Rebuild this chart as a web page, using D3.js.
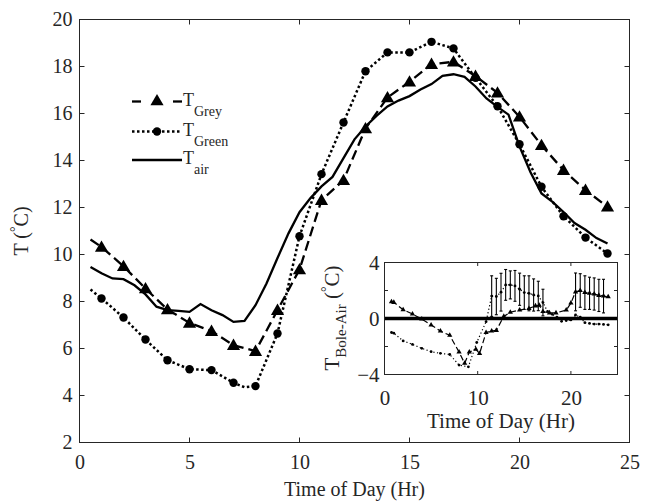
<!DOCTYPE html>
<html>
<head>
<meta charset="utf-8">
<script src="https://cdn.jsdelivr.net/npm/d3@7"></script>
<style>
  body { margin: 0; background: #fff; }
  svg { display: block; font-family: "Liberation Serif", "Times New Roman", serif; }
</style>
</head>
<body>
<div id="chart"></div>
<script>
// ---- main chart data ----
const airHours = [0.5, 1, 1.5, 2, 2.5, 3, 3.5, 4, 4.5, 5, 5.5, 6, 6.5, 7, 7.5, 8, 8.5, 9, 9.5, 10,
  10.5, 11, 11.5, 12, 12.5, 13, 13.5, 14, 14.5, 15, 15.5, 16, 16.5, 17, 17.5, 18, 18.5, 19, 19.5, 20,
  20.5, 21, 21.5, 22, 22.5, 23, 23.5, 24];
const airTemp = [9.47, 9.2, 8.98, 8.95, 8.69, 8.3, 7.78, 7.63, 7.6, 7.56, 7.89, 7.63, 7.42, 7.13, 7.17, 7.84, 8.77, 9.85, 10.9, 11.8,
  12.4, 12.9, 13.3, 14.1, 14.9, 15.45, 15.9, 16.3, 16.55, 16.74, 17.02, 17.25, 17.6, 17.67, 17.56, 17.15, 16.64, 16.28, 15.95, 14.6,
  13.5, 12.6, 12.24, 11.81, 11.34, 11.05, 10.7, 10.47];

const greyHours = [0.5, 1, 2, 3, 4, 5, 6, 7, 8, 9, 10, 11, 12, 13, 14, 15, 16, 17, 18, 19, 20, 21, 22, 23, 24];
const greyTemp = [10.64, 10.32, 9.5, 8.55, 7.66, 7.09, 6.74, 6.14, 5.89, 7.63, 9.36, 12.31, 13.16, 15.36, 16.68, 17.35,
  18.1, 18.2, 17.59, 16.88, 15.86, 14.65, 13.59, 12.74, 12.03];

const greenHours = [0.5, 1, 2, 3, 4, 5, 6, 7, 7.5, 8, 9, 10, 11, 12, 13, 14, 15, 16, 17, 18, 19, 20, 21, 22, 23, 24];
const greenTemp = [8.51, 8.13, 7.32, 6.38, 5.5, 5.12, 5.08, 4.54, 4.35, 4.4, 6.64, 10.78, 13.42, 15.62, 17.8, 18.6,
  18.6, 19.05, 18.77, 17.52, 16.31, 14.69, 12.88, 11.63, 10.72, 10.04];

const xTicks = [0, 5, 10, 15, 20, 25];
const yTicks = [2, 4, 6, 8, 10, 12, 14, 16, 18, 20];

// ---- inset data: bole minus air ----
const insetGreyHours = [0.75, 1, 2, 3, 4, 5, 6, 7, 8, 8.6, 9.1, 9.8, 10.2, 10.9, 11.5, 12, 12.8, 13.5, 14.5, 15.5,
  16.2, 16.6, 17, 17.7, 18.4, 19.5, 20, 20.5, 21, 21.5, 22, 22.5, 23, 23.5, 24];
const insetGrey = [1.2, 1.15, 0.63, 0.32, -0.04, -0.46, -0.9, -1.2, -2.4, -3.2, -2.4, -2.2, -2.5, -1.0, -0.9, -0.85, 0.15, 0.45, 0.6, 0.72,
  0.9, 0.95, 0.5, 0.4, 0.4, 0.6, 1.1, 1.9, 2.0, 1.85, 1.8, 1.75, 1.65, 1.6, 1.55];

const insetGreenHours = [0.75, 1, 2, 3, 4, 5, 6, 7, 8, 9, 9.9, 10.9, 11.5, 12, 12.5, 13, 13.5, 14, 14.5, 15,
  15.5, 16, 16.5, 17, 17.5, 18, 18.5, 19, 19.5, 20, 20.5, 21, 21.5, 22, 22.5, 23, 23.5, 24];
const insetGreen = [-1.0, -1.05, -1.6, -1.85, -2.13, -2.37, -2.49, -2.57, -3.33, -3.45, -1.71, -0.23, 1.6, 1.57, 1.88, 2.4, 2.4, 2.33, 2.09, 1.85,
  1.8, 1.68, 1.61, 1.14, 0.5, 0.3, 0.1, -0.2, -0.15, -0.1, 0.25, 0.1, -0.3, -0.35, -0.4, -0.4, -0.42, -0.45];

const greenErrHours = [11.5, 12, 12.5, 13, 13.5, 14, 14.5, 15, 15.5, 16, 16.5, 17];
const greenErrMid = [1.6, 1.57, 1.88, 2.4, 2.4, 2.33, 2.09, 1.85, 1.8, 1.68, 1.61, 1.14];
const greenErr = [1.45, 1.3, 1.35, 1.1, 1.0, 1.1, 1.15, 1.2, 1.25, 1.15, 1.05, 0.95];

const greyErrHours = [20.5, 21, 21.5, 22, 22.5, 23, 23.5];
const greyErrMid = [1.9, 2.0, 1.85, 1.8, 1.75, 1.65, 1.6];
const greyErr = [1.35, 1.2, 1.2, 1.15, 1.15, 1.15, 1.2];

const insetXTicks = [0, 10, 20];
const insetYTicks = [-4, -2, 0, 2, 4];
const insetYLabels = [-4, 0, 4];

// ---- drawing ----
const W = 654, H = 503;
const ink = "#262626";
const zip = (a, b) => a.map((v, i) => [v, b[i]]);

const svg = d3.select("#chart").append("svg").attr("width", W).attr("height", H);

const x = d3.scaleLinear().domain([0, 25]).range([79.5, 629.5]);
const y = d3.scaleLinear().domain([2, 20]).range([442.5, 19.5]);

function frame(g, xs, ys, tick, xt, yt) {
  const [x0, x1] = xs.range(), [y0, y1] = ys.range();
  g.append("rect").attr("x", x0).attr("y", y1).attr("width", x1 - x0).attr("height", y0 - y1)
    .attr("fill", "#fff").attr("stroke", "none");
  const tk = g.append("g").attr("stroke", ink).attr("stroke-width", 1);
  xt.forEach(t => {
    tk.append("line").attr("x1", xs(t)).attr("x2", xs(t)).attr("y1", y0).attr("y2", y0 - tick);
    tk.append("line").attr("x1", xs(t)).attr("x2", xs(t)).attr("y1", y1).attr("y2", y1 + tick);
  });
  yt.forEach(t => {
    tk.append("line").attr("x1", x0).attr("x2", x0 + tick).attr("y1", ys(t)).attr("y2", ys(t));
    tk.append("line").attr("x1", x1).attr("x2", x1 - tick).attr("y1", ys(t)).attr("y2", ys(t));
  });
}

function outline(g, xs, ys) {
  const [x0, x1] = xs.range(), [y0, y1] = ys.range();
  g.append("rect").attr("x", x0).attr("y", y1).attr("width", x1 - x0).attr("height", y0 - y1)
    .attr("fill", "none").attr("stroke", ink).attr("stroke-width", 1);
}

// main frame + ticks
const main = svg.append("g");
frame(main, x, y, 5, xTicks.slice(1, -1), yTicks.slice(1, -1));

const xAxis = main.append("g").attr("transform", `translate(0,${y.range()[0]})`)
  .call(d3.axisBottom(x).tickValues(xTicks).tickSize(0).tickPadding(12).tickFormat(d3.format("d")));
const yAxis = main.append("g").attr("transform", `translate(${x.range()[0]},0)`)
  .call(d3.axisLeft(y).tickValues(yTicks).tickSize(0).tickPadding(7).tickFormat(d3.format("d")));
[xAxis, yAxis].forEach(a => {
  a.select(".domain").remove();
  a.selectAll("text").attr("font-size", 20).attr("fill", ink)
    .attr("font-family", '"Liberation Serif", "Times New Roman", serif');
});

const line = (xs, ys) => d3.line().x(d => xs(d[0])).y(d => ys(d[1]));
const tri = d3.symbol().type(d3.symbolTriangle);

// T_air
main.append("path").datum(zip(airHours, airTemp)).attr("d", line(x, y))
  .attr("fill", "none").attr("stroke", "#000").attr("stroke-width", 2.3);

// T_Grey
const greyPts = zip(greyHours, greyTemp);
main.append("path").datum(greyPts).attr("d", line(x, y))
  .attr("fill", "none").attr("stroke", "#000").attr("stroke-width", 2.3).attr("stroke-dasharray", "10,5");
main.selectAll("path.gm").data(greyPts.filter(d => Number.isInteger(d[0]))).join("path")
  .attr("class", "gm").attr("d", tri.size(75)())
  .attr("transform", d => `translate(${x(d[0])},${y(d[1]) + 1})`).attr("fill", "#000");

// T_Green
const greenPts = zip(greenHours, greenTemp);
main.append("path").datum(greenPts).attr("d", line(x, y))
  .attr("fill", "none").attr("stroke", "#000").attr("stroke-width", 2.5).attr("stroke-dasharray", "2.5,2.5");
main.selectAll("circle.gc").data(greenPts.filter(d => Number.isInteger(d[0]))).join("circle")
  .attr("class", "gc").attr("cx", d => x(d[0])).attr("cy", d => y(d[1])).attr("r", 4.2).attr("fill", "#000");

outline(main, x, y);

// axis labels
svg.append("text").attr("x", (x.range()[0] + x.range()[1]) / 2).attr("y", 496)
  .attr("text-anchor", "middle").attr("font-size", 20).attr("fill", ink).text("Time of Day (Hr)");

const yl = svg.append("text").attr("transform", "translate(28,231) rotate(-90)")
  .attr("text-anchor", "middle").attr("font-size", 20).attr("fill", ink);
yl.append("tspan").text("T (");
yl.append("tspan").attr("font-size", 14).attr("dy", -8).text("°");
yl.append("tspan").attr("dy", 8).text("C)");

// legend
const leg = svg.append("g").attr("fill", ink);
const legRows = [
  { y: 101.5, name: "Grey" },
  { y: 131.5, name: "Green" },
  { y: 160, name: "air" }
];
// grey entry
leg.append("line").attr("x1", 132).attr("x2", 141).attr("y1", legRows[0].y).attr("y2", legRows[0].y)
  .attr("stroke", "#000").attr("stroke-width", 2.3);
leg.append("line").attr("x1", 173).attr("x2", 182).attr("y1", legRows[0].y).attr("y2", legRows[0].y)
  .attr("stroke", "#000").attr("stroke-width", 2.3);
leg.append("path").attr("d", tri.size(75)()).attr("transform", `translate(157,${legRows[0].y})`).attr("fill", "#000");
// green entry
leg.append("line").attr("x1", 132).attr("x2", 182).attr("y1", legRows[1].y).attr("y2", legRows[1].y)
  .attr("stroke", "#000").attr("stroke-width", 2.5).attr("stroke-dasharray", "2.5,2.5");
leg.append("circle").attr("cx", 157).attr("cy", legRows[1].y).attr("r", 4.2).attr("fill", "#000");
// air entry
leg.append("line").attr("x1", 132).attr("x2", 182).attr("y1", legRows[2].y).attr("y2", legRows[2].y)
  .attr("stroke", "#000").attr("stroke-width", 2.3);
legRows.forEach(r => {
  const t = leg.append("text").attr("x", 183).attr("y", r.y + 4).attr("font-size", 18);
  t.append("tspan").text("T");
  t.append("tspan").attr("font-size", 14).attr("dy", 10).text(r.name);
});

// ---- inset ----
const ix = d3.scaleLinear().domain([0, 25]).range([384.5, 617.5]);
const iy = d3.scaleLinear().domain([-4, 4]).range([374.5, 262.5]);
const inset = svg.append("g");
frame(inset, ix, iy, 3.5, insetXTicks.slice(1), insetYTicks.slice(1, -1));

// zero line
inset.append("line").attr("x1", ix(0)).attr("x2", ix(25)).attr("y1", iy(0)).attr("y2", iy(0))
  .attr("stroke", "#000").attr("stroke-width", 3.5);

// error bars
const gErr = greenErrHours.map((h, i) => ({ h, m: greenErrMid[i], e: greenErr[i] }));
const yErr = greyErrHours.map((h, i) => ({ h, m: greyErrMid[i], e: greyErr[i] }));
[gErr, yErr].forEach(set => {
  const eg = inset.append("g").attr("stroke", "#000").attr("stroke-width", 1.1);
  set.forEach(d => {
    eg.append("line").attr("x1", ix(d.h)).attr("x2", ix(d.h)).attr("y1", iy(d.m - d.e)).attr("y2", iy(d.m + d.e));
    eg.append("line").attr("x1", ix(d.h) - 1.5).attr("x2", ix(d.h) + 1.5).attr("y1", iy(d.m - d.e)).attr("y2", iy(d.m - d.e));
    eg.append("line").attr("x1", ix(d.h) - 1.5).attr("x2", ix(d.h) + 1.5).attr("y1", iy(d.m + d.e)).attr("y2", iy(d.m + d.e));
  });
});

const iGrey = zip(insetGreyHours, insetGrey);
inset.append("path").datum(iGrey).attr("d", line(ix, iy))
  .attr("fill", "none").attr("stroke", "#000").attr("stroke-width", 1.2).attr("stroke-dasharray", "6,3");
inset.selectAll("path.ig").data(iGrey).join("path").attr("class", "ig")
  .attr("d", d3.symbol().type(d3.symbolTriangle).size(12)())
  .attr("transform", d => `translate(${ix(d[0])},${iy(d[1])})`).attr("fill", "#000");

const iGreen = zip(insetGreenHours, insetGreen);
inset.append("path").datum(iGreen).attr("d", line(ix, iy))
  .attr("fill", "none").attr("stroke", "#000").attr("stroke-width", 1.2).attr("stroke-dasharray", "1.2,2.4");
inset.selectAll("circle.ic").data(iGreen).join("circle").attr("class", "ic")
  .attr("cx", d => ix(d[0])).attr("cy", d => iy(d[1])).attr("r", 1.4).attr("fill", "#000");

outline(inset, ix, iy);

const ixAxis = inset.append("g").attr("transform", `translate(0,${iy.range()[0]})`)
  .call(d3.axisBottom(ix).tickValues(insetXTicks).tickSize(0).tickPadding(16).tickFormat(d3.format("d")));
const iyAxis = inset.append("g").attr("transform", `translate(${ix.range()[0]},0)`)
  .call(d3.axisLeft(iy).tickValues(insetYLabels).tickSize(0).tickPadding(5).tickFormat(d3.format("d")));
[ixAxis, iyAxis].forEach(a => {
  a.select(".domain").remove();
  a.selectAll("text").attr("font-size", 21).attr("fill", ink)
    .attr("font-family", '"Liberation Serif", "Times New Roman", serif');
});

svg.append("text").attr("x", 501).attr("y", 428).attr("text-anchor", "middle")
  .attr("font-size", 21).attr("fill", ink).text("Time of Day (Hr)");

const iyl = svg.append("text").attr("transform", "translate(339,318) rotate(-90)")
  .attr("text-anchor", "middle").attr("font-size", 21).attr("fill", ink);
iyl.append("tspan").text("T");
iyl.append("tspan").attr("font-size", 15).attr("dy", 7).text("Bole-Air");
iyl.append("tspan").attr("dy", -7).text(" (");
iyl.append("tspan").attr("font-size", 14).attr("dy", -8).text("°");
iyl.append("tspan").attr("dy", 8).text("C)");
</script>
</body>
</html>
